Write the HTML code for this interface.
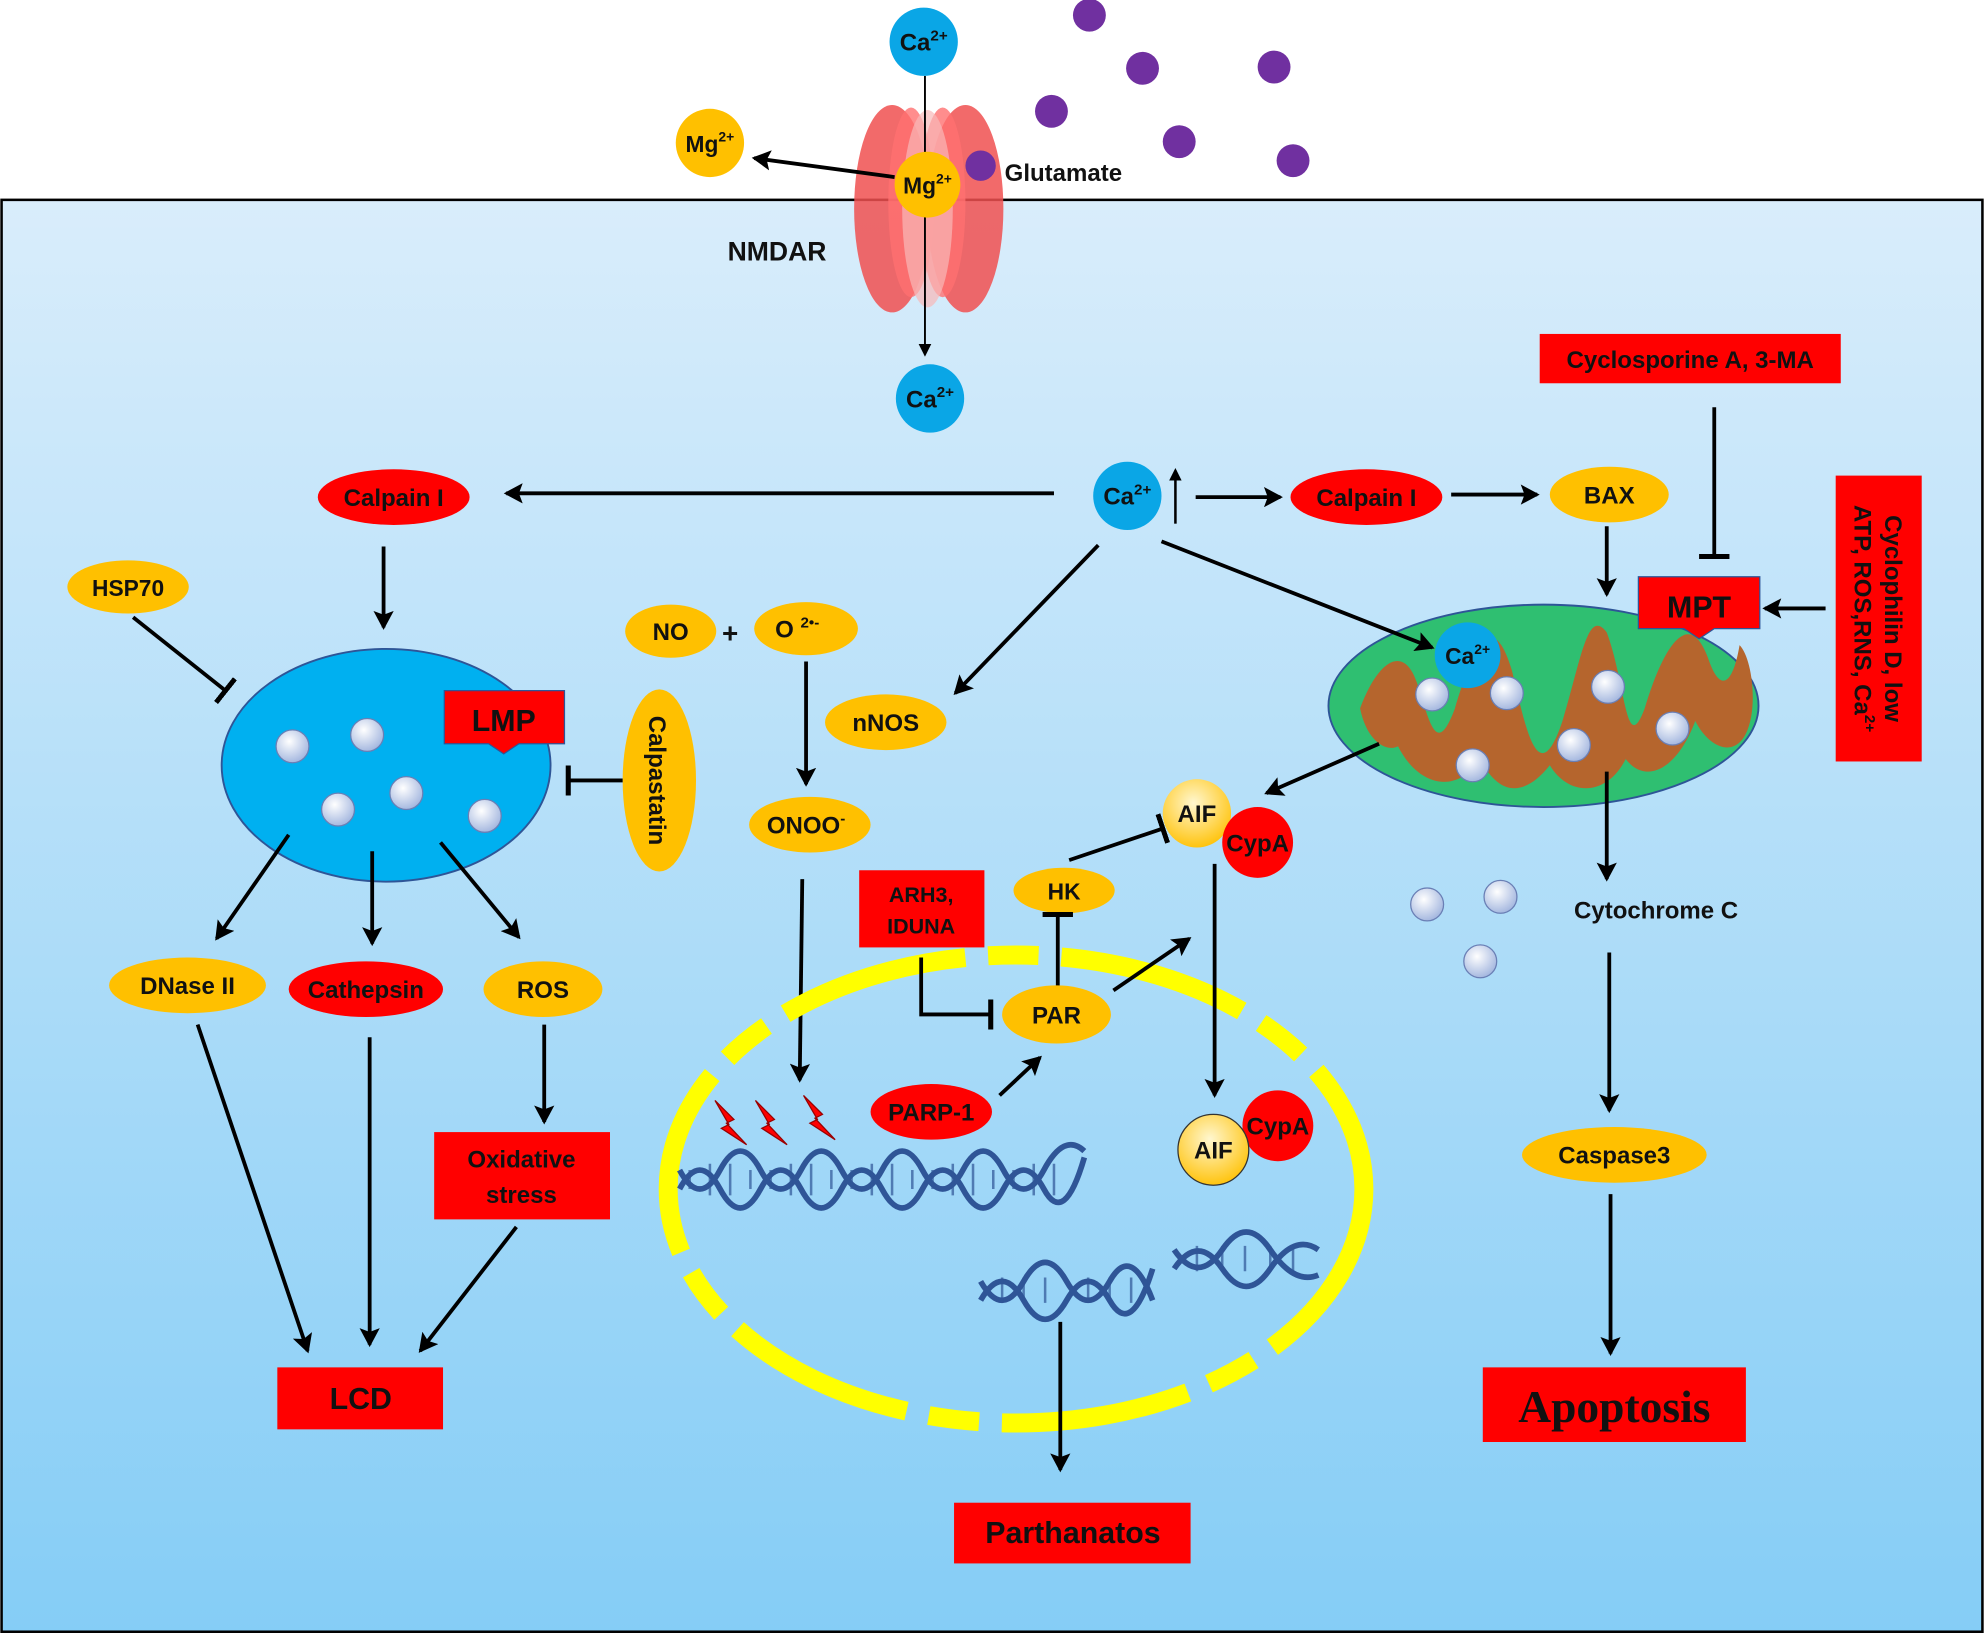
<!DOCTYPE html>
<html><head><meta charset="utf-8"><style>
html,body{margin:0;padding:0;background:#fff}
svg{display:block}
text{font-family:"Liberation Sans",sans-serif;font-weight:bold;fill:#111}
</style></head><body>
<svg width="1984" height="1633" viewBox="0 0 1568 1291" xmlns="http://www.w3.org/2000/svg">
<defs>
<linearGradient id="bg" x1="0" y1="0" x2="0" y2="1"><stop offset="0" stop-color="#d9edfb"/><stop offset="1" stop-color="#85cdf6"/></linearGradient>
<radialGradient id="ves" cx="0.4" cy="0.35" r="0.7"><stop offset="0" stop-color="#ffffff"/><stop offset="1" stop-color="#9fb3dd"/></radialGradient>
<radialGradient id="aif" cx="0.45" cy="0.35" r="0.7"><stop offset="0" stop-color="#fff7d0"/><stop offset="1" stop-color="#ffc000"/></radialGradient>
<marker id="a" markerWidth="10" markerHeight="10" refX="8" refY="5" orient="auto" markerUnits="userSpaceOnUse"><path d="M0,0 L10,5 L0,10 z" fill="#000"/></marker>
<marker id="a2" markerWidth="16" markerHeight="16" refX="13" refY="8" orient="auto" markerUnits="userSpaceOnUse"><path d="M0,0 L15,8 L0,16 L3,8 z" fill="#000"/></marker>
<marker id="t" markerWidth="4" markerHeight="24" refX="2" refY="12" orient="auto" markerUnits="userSpaceOnUse"><rect x="0" y="0" width="4" height="24" fill="#000"/></marker>
</defs>
<rect x="1" y="158" width="1566" height="1132" fill="url(#bg)" stroke="#000" stroke-width="2"/>

<!-- NMDAR -->
<ellipse cx="705" cy="165" rx="30" ry="82" fill="#f05050" opacity="0.85"/>
<ellipse cx="763" cy="165" rx="30" ry="82" fill="#f05050" opacity="0.85"/>
<ellipse cx="720" cy="160" rx="18" ry="75" fill="#ff7070" opacity="0.8"/>
<ellipse cx="745" cy="160" rx="18" ry="75" fill="#ff7070" opacity="0.8"/>
<ellipse cx="733" cy="165" rx="20" ry="78" fill="#f8b8b8" opacity="0.7"/>
<line x1="731" y1="60" x2="731" y2="280" stroke="#000" stroke-width="1.5" marker-end="url(#a)"/>
<circle cx="730" cy="33" r="27" fill="#0aa6e6"/><text x="730" y="40" font-size="19" text-anchor="middle">Ca<tspan font-size="12" dy="-8">2+</tspan></text>
<circle cx="735" cy="315" r="27" fill="#0aa6e6"/><text x="735" y="322" font-size="19" text-anchor="middle">Ca<tspan font-size="12" dy="-8">2+</tspan></text>
<circle cx="733" cy="146" r="26" fill="#ffc000"/><text x="733" y="153" font-size="18" text-anchor="middle">Mg<tspan font-size="11" dy="-8">2+</tspan></text>
<circle cx="561" cy="113" r="27" fill="#ffc000"/><text x="561" y="120" font-size="18" text-anchor="middle">Mg<tspan font-size="11" dy="-8">2+</tspan></text>
<line x1="707" y1="140" x2="596" y2="125" stroke="#000" stroke-width="3" marker-end="url(#a2)"/>
<text x="575" y="206" font-size="21">NMDAR</text>
<g fill="#7030a0">
<circle cx="861" cy="12" r="13"/><circle cx="903" cy="54" r="13"/><circle cx="1007" cy="53" r="13"/><circle cx="831" cy="88" r="13"/><circle cx="932" cy="112" r="13"/><circle cx="1022" cy="127" r="13"/><circle cx="775" cy="131" r="12"/>
</g>
<text x="794" y="143" font-size="19">Glutamate</text>

<!-- Mitochondria (drawn early so arrows overlay) -->
<ellipse cx="1220" cy="558" rx="170" ry="80" fill="#2fbf71" stroke="#2e5597" stroke-width="1.5"/>
<path d="M1075,560 C1090,520 1110,510 1120,540 C1130,570 1135,600 1150,560 C1165,510 1180,480 1195,530 C1205,570 1215,630 1235,570 C1250,520 1255,480 1270,500 C1285,540 1285,600 1300,560 C1315,510 1335,480 1350,520 C1360,550 1370,540 1375,510 C1385,520 1390,560 1380,580 C1370,600 1350,590 1340,570 C1325,610 1300,620 1285,600 C1270,630 1240,630 1225,605 C1205,630 1185,630 1170,600 C1150,630 1120,620 1105,590 C1095,595 1080,585 1075,560 Z" fill="#b5652d"/>
<g fill="url(#ves)" stroke="#6a7fb5"><circle cx="1132" cy="549" r="13"/><circle cx="1191" cy="548" r="13"/><circle cx="1271" cy="543" r="13"/><circle cx="1244" cy="589" r="13"/><circle cx="1322" cy="576" r="13"/><circle cx="1164" cy="605" r="13"/></g>
<circle cx="1160" cy="518" r="26" fill="#0aa6e6"/><text x="1160" y="525" font-size="18" text-anchor="middle">Ca<tspan font-size="11" dy="-8">2+</tspan></text>

<!-- Ca central -->
<circle cx="891" cy="392" r="27" fill="#0aa6e6"/><text x="891" y="399" font-size="19" text-anchor="middle">Ca<tspan font-size="12" dy="-8">2+</tspan></text>
<line x1="929" y1="414" x2="929" y2="372" stroke="#000" stroke-width="2" marker-end="url(#a)"/>
<line x1="833" y1="390" x2="400" y2="390" stroke="#000" stroke-width="3" marker-end="url(#a2)"/>
<line x1="945" y1="393" x2="1012" y2="393" stroke="#000" stroke-width="3" marker-end="url(#a2)"/>
<line x1="1147" y1="391" x2="1215" y2="391" stroke="#000" stroke-width="3" marker-end="url(#a2)"/>
<line x1="868" y1="431" x2="755" y2="548" stroke="#000" stroke-width="3" marker-end="url(#a2)"/>
<line x1="918" y1="428" x2="1132" y2="512" stroke="#000" stroke-width="3" marker-end="url(#a2)"/>

<ellipse cx="311" cy="393" rx="60" ry="22" fill="#ff0000"/><text x="311" y="400" font-size="19" text-anchor="middle">Calpain I</text>
<ellipse cx="1080" cy="393" rx="60" ry="22" fill="#ff0000"/><text x="1080" y="400" font-size="19" text-anchor="middle">Calpain I</text>
<ellipse cx="1272" cy="391" rx="47" ry="22" fill="#ffc000"/><text x="1272" y="398" font-size="19" text-anchor="middle">BAX</text>

<!-- Lysosome -->
<line x1="303" y1="432" x2="303" y2="496" stroke="#000" stroke-width="3" marker-end="url(#a2)"/>
<ellipse cx="101" cy="464" rx="48" ry="21" fill="#ffc000"/><text x="101" y="471" font-size="18" text-anchor="middle">HSP70</text>
<line x1="105" y1="488" x2="178" y2="546" stroke="#000" stroke-width="3" marker-end="url(#t)"/>
<ellipse cx="305" cy="605" rx="130" ry="92" fill="#00b0f0" stroke="#2e5597" stroke-width="1.5"/>
<g fill="url(#ves)" stroke="#6a7fb5"><circle cx="231" cy="590" r="13"/><circle cx="290" cy="581" r="13"/><circle cx="267" cy="640" r="13"/><circle cx="321" cy="627" r="13"/><circle cx="383" cy="645" r="13"/></g>
<path d="M351,546 H446 V588 H410 L398,596 L386,588 H351 Z" fill="#ff0000" stroke="#2e5597"/><text x="398" y="578" font-size="24" text-anchor="middle">LMP</text>
<ellipse cx="521" cy="617" rx="29" ry="72" fill="#ffc000"/>
<text x="513" y="617" font-size="19" text-anchor="middle" transform="rotate(90 513 617)">Calpastatin</text>
<line x1="492" y1="617" x2="449" y2="617" stroke="#000" stroke-width="3" marker-end="url(#t)"/>
<line x1="228" y1="660" x2="171" y2="742" stroke="#000" stroke-width="3" marker-end="url(#a2)"/>
<line x1="294" y1="673" x2="294" y2="746" stroke="#000" stroke-width="3" marker-end="url(#a2)"/>
<line x1="348" y1="666" x2="410" y2="741" stroke="#000" stroke-width="3" marker-end="url(#a2)"/>
<ellipse cx="148" cy="779" rx="62" ry="22" fill="#ffc000"/><text x="148" y="786" font-size="19" text-anchor="middle">DNase II</text>
<ellipse cx="289" cy="782" rx="61" ry="22" fill="#ff0000"/><text x="289" y="789" font-size="19" text-anchor="middle">Cathepsin</text>
<ellipse cx="429" cy="782" rx="47" ry="22" fill="#ffc000"/><text x="429" y="789" font-size="19" text-anchor="middle">ROS</text>
<line x1="430" y1="810" x2="430" y2="887" stroke="#000" stroke-width="3" marker-end="url(#a2)"/>
<rect x="343" y="895" width="139" height="69" fill="#ff0000"/><text x="412" y="923" font-size="19" text-anchor="middle">Oxidative</text><text x="412" y="951" font-size="19" text-anchor="middle">stress</text>
<line x1="156" y1="810" x2="243" y2="1068" stroke="#000" stroke-width="3" marker-end="url(#a2)"/>
<line x1="292" y1="820" x2="292" y2="1063" stroke="#000" stroke-width="3" marker-end="url(#a2)"/>
<line x1="408" y1="970" x2="332" y2="1068" stroke="#000" stroke-width="3" marker-end="url(#a2)"/>
<rect x="219" y="1081" width="131" height="49" fill="#ff0000"/><text x="285" y="1114" font-size="24" text-anchor="middle">LCD</text>

<!-- NO / ONOO -->
<ellipse cx="530" cy="499" rx="36" ry="21" fill="#ffc000"/><text x="530" y="506" font-size="19" text-anchor="middle">NO</text>
<text x="577" y="508" font-size="22" text-anchor="middle">+</text>
<ellipse cx="637" cy="497" rx="41" ry="21" fill="#ffc000"/><text x="630" y="504" font-size="19" text-anchor="middle">O <tspan font-size="12" dy="-8">2•-</tspan></text>
<line x1="637" y1="523" x2="637" y2="620" stroke="#000" stroke-width="3" marker-end="url(#a2)"/>
<ellipse cx="700" cy="571" rx="48" ry="22" fill="#ffc000"/><text x="700" y="578" font-size="19" text-anchor="middle">nNOS</text>
<ellipse cx="640" cy="652" rx="48" ry="22" fill="#ffc000"/><text x="637" y="659" font-size="19" text-anchor="middle">ONOO<tspan font-size="12" dy="-8">-</tspan></text>
<line x1="634" y1="695" x2="632" y2="854" stroke="#000" stroke-width="3" marker-end="url(#a2)"/>

<!-- Nucleus -->
<ellipse cx="803" cy="940" rx="275" ry="185" fill="none" stroke="#ffff00" stroke-width="15" stroke-dasharray="150,18,40,18"/>
<rect x="679" y="688" width="99" height="61" fill="#ff0000"/><text x="728" y="713" font-size="17" text-anchor="middle">ARH3,</text><text x="728" y="738" font-size="17" text-anchor="middle">IDUNA</text>
<path d="M728,757 V802 H783" fill="none" stroke="#000" stroke-width="3" marker-end="url(#t)"/>
<ellipse cx="841" cy="704" rx="40" ry="18" fill="#ffc000"/><text x="841" y="711" font-size="18" text-anchor="middle">HK</text>
<line x1="836" y1="785" x2="836" y2="723" stroke="#000" stroke-width="3" marker-end="url(#t)"/>
<ellipse cx="835" cy="802" rx="43" ry="23" fill="#ffc000"/><text x="835" y="809" font-size="19" text-anchor="middle">PAR</text>
<line x1="845" y1="680" x2="919" y2="655" stroke="#000" stroke-width="3" marker-end="url(#t)"/>
<line x1="880" y1="783" x2="940" y2="742" stroke="#000" stroke-width="3" marker-end="url(#a2)"/>
<ellipse cx="736" cy="879" rx="48" ry="22" fill="#ff0000"/><text x="736" y="886" font-size="19" text-anchor="middle">PARP-1</text>
<line x1="790" y1="866" x2="822" y2="836" stroke="#000" stroke-width="3" marker-end="url(#a2)"/>
<circle cx="946" cy="643" r="27" fill="url(#aif)"/><text x="946" y="650" font-size="19" text-anchor="middle">AIF</text>
<circle cx="994" cy="666" r="28" fill="#ff0000"/><text x="994" y="673" font-size="19" text-anchor="middle">CypA</text>
<line x1="960" y1="683" x2="960" y2="866" stroke="#000" stroke-width="3" marker-end="url(#a2)"/>
<circle cx="1010" cy="890" r="28" fill="#ff0000"/><text x="1010" y="897" font-size="19" text-anchor="middle">CypA</text>
<circle cx="959" cy="909" r="28" fill="url(#aif)" stroke="#333"/><text x="959" y="916" font-size="19" text-anchor="middle">AIF</text>
<!-- DNA -->
<g fill="none" stroke="#2f5597" stroke-width="4.5">
<path d="M537,940 q16,-30 32,0 t32,0 t32,0 t32,0 t32,0 t32,0 t32,0 t32,0 t32,0 t32,-25"/>
<path d="M537,925 q16,30 32,0 t32,0 t32,0 t32,0 t32,0 t32,0 t32,0 t32,0 t32,0 t32,-15"/>
<path d="M775,1028 q17,-30 34,0 t34,0 t34,0 t34,-25"/>
<path d="M775,1013 q17,30 34,0 t34,0 t34,0 t34,15"/>
<path d="M928,1003 q19,-28 38,0 t38,0 t38,-15"/>
<path d="M928,988 q19,28 38,0 t38,0 t38,20"/>
</g>
<g stroke="#2f5597" stroke-width="2" opacity="0.7">
<path d="M545,925v15M561,920v25M577,920v25M593,925v15M609,925v15M625,920v25M641,920v25M657,925v15M673,925v15M689,920v25M705,920v25M721,925v15M737,925v15M753,920v25M769,920v25M785,925v15M801,925v15M817,920v25M833,920v25"/>
<path d="M792,1010v20M809,1010v20M826,1010v20M860,1010v20M877,1010v20M894,1010v20M946,985v20M966,985v20M984,985v20M1004,985v20M1022,985v20"/>
</g>
<g fill="#ff0000" stroke="#900"><path d="M565,870 L580,885 L574,888 L590,905 L570,892 L576,889 Z"/><path d="M597,870 L612,885 L606,888 L622,905 L602,892 L608,889 Z"/><path d="M635,866 L650,881 L644,884 L660,901 L640,888 L646,885 Z"/></g>
<line x1="838" y1="1045" x2="838" y2="1162" stroke="#000" stroke-width="3" marker-end="url(#a2)"/>
<rect x="754" y="1188" width="187" height="48" fill="#ff0000"/><text x="848" y="1220" font-size="24" text-anchor="middle">Parthanatos</text>

<!-- Mito right side -->
<line x1="1270" y1="416" x2="1270" y2="470" stroke="#000" stroke-width="3" marker-end="url(#a2)"/>
<rect x="1217" y="264" width="238" height="39" fill="#ff0000"/><text x="1336" y="291" font-size="19" text-anchor="middle">Cyclosporine A, 3-MA</text>
<line x1="1355" y1="322" x2="1355" y2="440" stroke="#000" stroke-width="3" marker-end="url(#t)"/>
<path d="M1295,456 H1391 V497 H1355 L1343,505 L1331,497 H1295 Z" fill="#ff0000" stroke="#2e5597"/><text x="1343" y="488" font-size="24" text-anchor="middle">MPT</text>
<rect x="1451" y="376" width="68" height="226" fill="#ff0000"/>
<text x="1490" y="489" font-size="19" text-anchor="middle" transform="rotate(90 1490 489)">Cyclophilin D, low</text>
<text x="1466" y="489" font-size="19" text-anchor="middle" transform="rotate(90 1466 489)">ATP, ROS,RNS, Ca<tspan font-size="12" dy="-8">2+</tspan></text>
<line x1="1443" y1="481" x2="1395" y2="481" stroke="#000" stroke-width="3" marker-end="url(#a2)"/>
<line x1="1090" y1="588" x2="1001" y2="627" stroke="#000" stroke-width="3" marker-end="url(#a2)"/>
<line x1="1270" y1="610" x2="1270" y2="695" stroke="#000" stroke-width="3" marker-end="url(#a2)"/>
<g fill="url(#ves)" stroke="#6a7fb5"><circle cx="1128" cy="715" r="13"/><circle cx="1186" cy="709" r="13"/><circle cx="1170" cy="760" r="13"/></g>
<text x="1309" y="726" font-size="19" text-anchor="middle">Cytochrome C</text>
<line x1="1272" y1="753" x2="1272" y2="878" stroke="#000" stroke-width="3" marker-end="url(#a2)"/>
<ellipse cx="1276" cy="913" rx="73" ry="22" fill="#ffc000"/><text x="1276" y="920" font-size="19" text-anchor="middle">Caspase3</text>
<line x1="1273" y1="944" x2="1273" y2="1070" stroke="#000" stroke-width="3" marker-end="url(#a2)"/>
<rect x="1172" y="1081" width="208" height="59" fill="#ff0000"/><text x="1276" y="1124" font-size="36" text-anchor="middle" style="font-family:'Liberation Serif',serif">Apoptosis</text>
</svg>
</body></html>
